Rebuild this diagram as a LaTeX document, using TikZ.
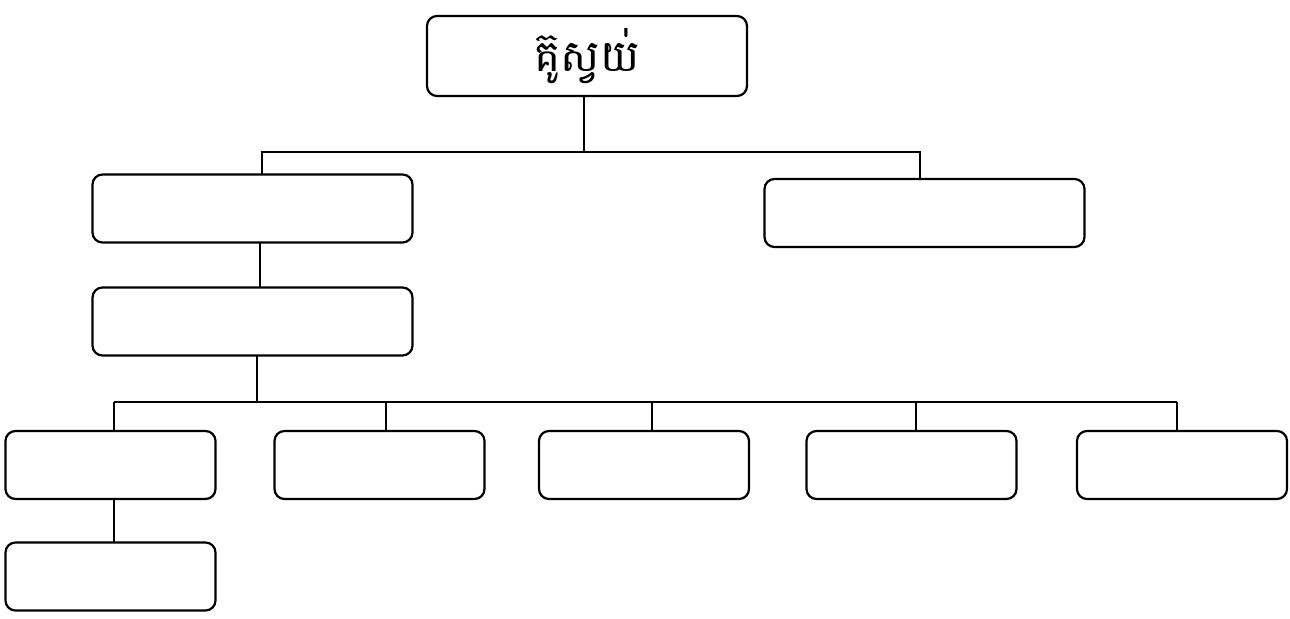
\documentclass[tikz,border=0pt]{standalone}
\usepackage{fontspec}
\newfontfamily\khmerfont[Script=Khmer]{Battambang}
\tikzset{
	box/.style={draw, rounded corners=5pt, line width=1.1pt, minimum width=160pt, minimum height=34pt, inner sep=0pt, outer sep=0pt},
	smallbox/.style={box, minimum width=105pt},
	link/.style={line width=0.7pt}
}
\begin{document}
\begin{tikzpicture}[x=0.5pt, y=-0.5pt]
		\useasboundingbox (0,0) rectangle (1290,619);
		%top box
		\node[box, minimum height=40pt] (top) at (587,56){\khmerfont\fontsize{22}{26}\selectfont គ៊ូស្វយ់};
		
		%second level
		\node[box] (left1) at (252.5,208.5){};
		\node[box] (right1) at (924.5,213){};
		\node[box] (left2) at (252.5,321.5){};
		
		\coordinate (busA) at (584,152);
		\draw[link] (top.south -| busA) -- (busA);
		\draw[link] (262,0 |- left1.north) |- (920,0 |- busA) -- (920,0 |- right1.north);
		\draw[link] (260,0 |- left1.south) -- (260,0 |- left2.north);
		
		%bottom row
		\foreach \n/\x in {b1/110.5, b2/379.5, b3/644, b4/911.5, b5/1182}{
			\node[smallbox] (\n) at (\x,465){};
		}
		\coordinate (busB) at (257,402);
		\draw[line width=0.9pt] (left2.south -| busB) -- (busB);
		\draw[link] (busB -| 114,0) -- (busB -| 1177,0);
		\foreach \n/\lx in {b1/114, b2/386, b3/652, b4/916, b5/1177}{
			\draw[link] (\lx,0 |- busB) -- (\lx,0 |- \n.north);
		}
		
		\node[smallbox] (b1sub) at (110.5,576.5){};
		\draw[link] (114,0 |- b1.south) -- (114,0 |- b1sub.north);
		\end{tikzpicture}
\end{document}
